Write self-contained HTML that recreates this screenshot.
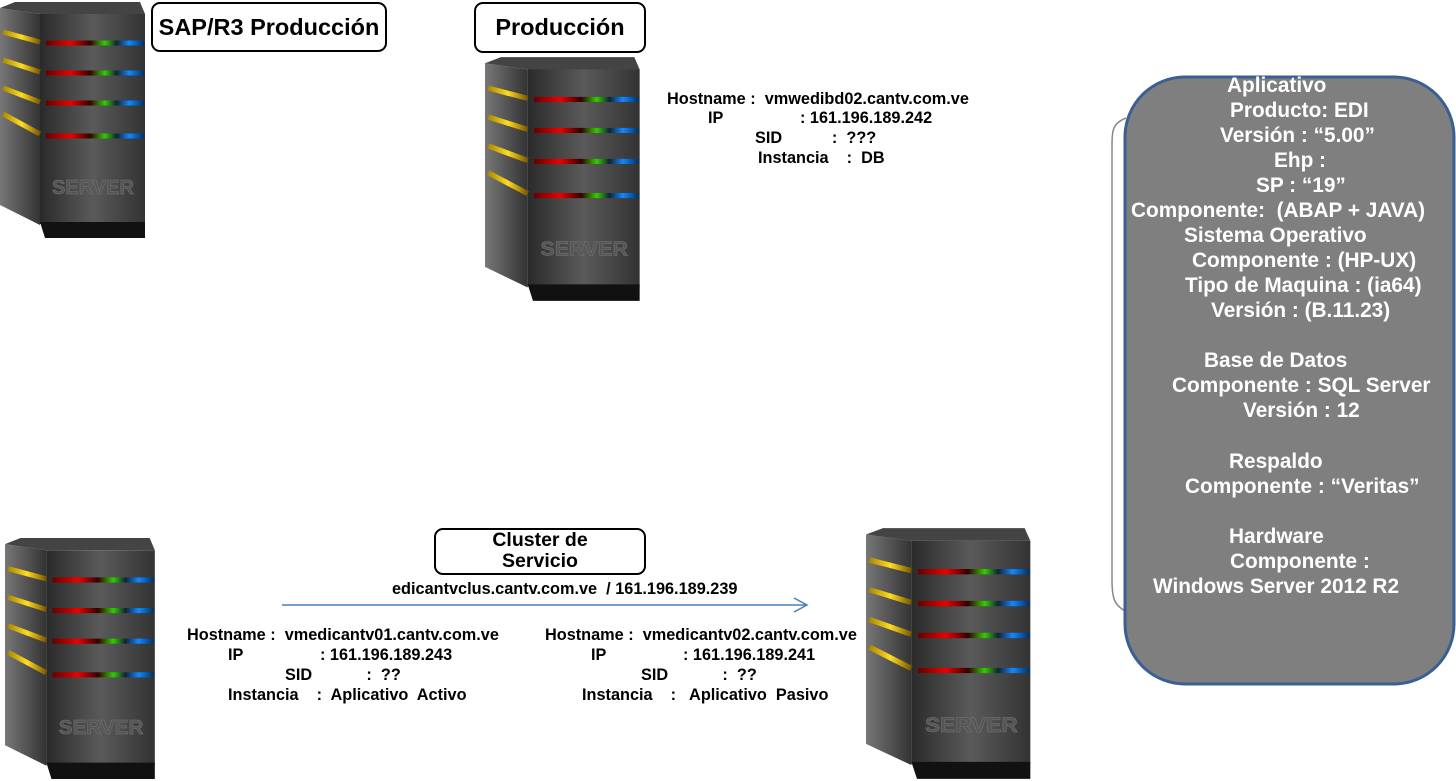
<!DOCTYPE html>
<html><head><meta charset="utf-8"><style>
body{margin:0;width:1456px;height:781px;background:#fff;position:relative;overflow:hidden;font-family:"Liberation Sans",sans-serif;font-weight:bold;}
.t{position:absolute;white-space:pre;font-size:16.3px;color:#000;line-height:20px}
.box{position:absolute;border:2px solid #000;border-radius:9px;background:#fff;text-align:center;font-size:23.5px}
.p{position:absolute;white-space:pre;color:#fff;font-size:20.8px;line-height:25px}
svg.s{position:absolute}
</style></head><body>
<svg width="0" height="0" style="position:absolute">
<defs>
<linearGradient id="fr" x1="0" x2="1"><stop offset="0" stop-color="#2a2a2a"/><stop offset="0.5" stop-color="#5a5a5a"/><stop offset="1" stop-color="#333"/></linearGradient>
<linearGradient id="sd" x1="0" x2="1"><stop offset="0" stop-color="#777"/><stop offset="1" stop-color="#333"/></linearGradient>
<linearGradient id="st" gradientUnits="userSpaceOnUse" x1="46" y1="0" x2="144" y2="0"><stop offset="0" stop-color="#600"/><stop offset="0.25" stop-color="#e00"/><stop offset="0.45" stop-color="#300"/><stop offset="0.6" stop-color="#3c0"/><stop offset="0.72" stop-color="#123"/><stop offset="0.85" stop-color="#18f"/><stop offset="1" stop-color="#036"/></linearGradient>
<linearGradient id="yl" gradientUnits="userSpaceOnUse" x1="3" y1="0" x2="40" y2="0"><stop offset="0" stop-color="#a80"/><stop offset="0.5" stop-color="#fd2"/><stop offset="1" stop-color="#750"/></linearGradient>
<g id="srv">
<path d="M0 8 L40 14 L40 225 L0 205 Z" fill="url(#sd)"/>
<path d="M0 8 L15 2 L140 2 L145 14 L40 14 Z" fill="#444"/>
<rect x="40" y="14" width="105" height="210" fill="url(#fr)"/>
<path d="M40 222 L145 222 L145 238 L45 238 Z" fill="#111"/>
<g stroke-width="5">
<line x1="46" y1="43" x2="144" y2="43" stroke="url(#st)"/>
<line x1="46" y1="73" x2="144" y2="73" stroke="url(#st)"/>
<line x1="46" y1="103" x2="144" y2="103" stroke="url(#st)"/>
<line x1="46" y1="136" x2="144" y2="136" stroke="url(#st)"/>
<line x1="3" y1="32" x2="40" y2="42" stroke="url(#yl)"/>
<line x1="3" y1="60" x2="40" y2="72" stroke="url(#yl)"/>
<line x1="3" y1="88" x2="40" y2="102" stroke="url(#yl)"/>
<line x1="3" y1="114" x2="40" y2="134" stroke="url(#yl)"/>
</g>
<text x="93" y="194" text-anchor="middle" font-family="Liberation Sans" font-size="20" fill="#555" stroke="#777" stroke-width="0.5">SERVER</text>
</g>
</defs></svg>
<svg class="s" style="left:0;top:0" width="150" height="240" viewBox="0 0 150 240"><use href="#srv"/></svg>
<svg class="s" style="left:485px;top:55px" width="160" height="248" viewBox="0 0 150 240" preserveAspectRatio="none"><use href="#srv"/></svg>
<svg class="s" style="left:5px;top:536px" width="155" height="245" viewBox="0 0 150 240" preserveAspectRatio="none"><use href="#srv"/></svg>
<svg class="s" style="left:866px;top:526px" width="170" height="255" viewBox="0 0 150 240" preserveAspectRatio="none"><use href="#srv"/></svg>

<div class="box" style="left:151px;top:2px;width:232px;height:46px;line-height:46px">SAP/R3 Producción</div>
<div class="box" style="left:474px;top:2px;width:168px;height:47px;line-height:47px">Producción</div>
<div class="box" style="left:434px;top:528px;width:208px;height:43px;font-size:19.5px;line-height:21px">Cluster de<br>Servicio</div>

<div class="t" style="left:667px;top:89px">Hostname :  vmwedibd02.cantv.com.ve</div>
<div class="t" style="left:708px;top:108px">IP                 : 161.196.189.242</div>
<div class="t" style="left:755px;top:128px">SID           :  ???</div>
<div class="t" style="left:758px;top:148px">Instancia    :  DB</div>

<div class="t" style="left:392px;top:579px">edicantvclus.cantv.com.ve  / 161.196.189.239</div>

<div class="t" style="left:187px;top:625px">Hostname :  vmedicantv01.cantv.com.ve</div>
<div class="t" style="left:228px;top:645px">IP                 : 161.196.189.243</div>
<div class="t" style="left:285px;top:665px">SID            :  ??</div>
<div class="t" style="left:228px;top:685px">Instancia    :  Aplicativo  Activo</div>

<div class="t" style="left:545px;top:625px">Hostname :  vmedicantv02.cantv.com.ve</div>
<div class="t" style="left:591px;top:645px">IP                 : 161.196.189.241</div>
<div class="t" style="left:641px;top:665px">SID            :  ??</div>
<div class="t" style="left:582px;top:685px">Instancia    :   Aplicativo  Pasivo</div>

<svg class="s" style="left:0;top:0" width="1456" height="781">
<line x1="282" y1="605" x2="806" y2="605" stroke="#4a7ebb" stroke-width="1.5"/>
<path d="M794 598 L807 605 L794 612" fill="none" stroke="#4a7ebb" stroke-width="1.5"/>
<path d="M1126 118 C1112 124 1112 130 1112 150 L1112 580 C1112 600 1115 606 1127 612" fill="none" stroke="#888" stroke-width="1.5"/>
<rect x="1125" y="77" width="329" height="607" rx="60" ry="60" fill="#7f7f7f" stroke="#3a5f94" stroke-width="3"/>
</svg>

<div class="p" style="left:1227px;top:73px">Aplicativo</div>
<div class="p" style="left:1230px;top:98px">Producto: EDI</div>
<div class="p" style="left:1220px;top:123px">Versión : “5.00”</div>
<div class="p" style="left:1274px;top:148px">Ehp :</div>
<div class="p" style="left:1256px;top:173px">SP : “19”</div>
<div class="p" style="left:1131px;top:198px">Componente:  (ABAP + JAVA)</div>
<div class="p" style="left:1184px;top:223px">Sistema Operativo</div>
<div class="p" style="left:1192px;top:248px">Componente : (HP-UX)</div>
<div class="p" style="left:1185px;top:273px">Tipo de Maquina : (ia64)</div>
<div class="p" style="left:1211px;top:298px">Versión : (B.11.23)</div>
<div class="p" style="left:1204px;top:348px">Base de Datos</div>
<div class="p" style="left:1172px;top:373px">Componente : SQL Server</div>
<div class="p" style="left:1243px;top:398px">Versión : 12</div>
<div class="p" style="left:1229px;top:449px">Respaldo</div>
<div class="p" style="left:1185px;top:474px">Componente : “Veritas”</div>
<div class="p" style="left:1229px;top:524px">Hardware</div>
<div class="p" style="left:1230px;top:549px">Componente :</div>
<div class="p" style="left:1153px;top:574px">Windows Server 2012 R2</div>
</body></html>
